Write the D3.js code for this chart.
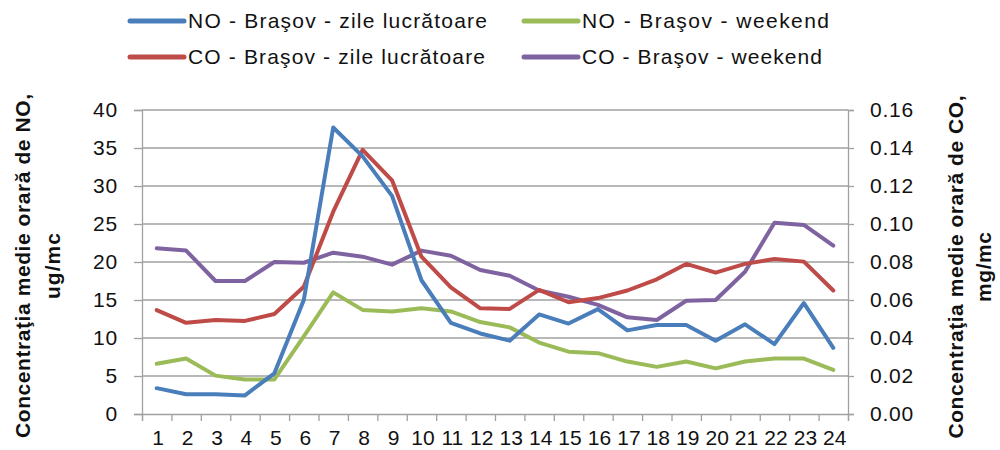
<!DOCTYPE html>
<html><head><meta charset="utf-8">
<script src="https://cdn.jsdelivr.net/npm/d3@7"></script>
<style>body{margin:0;background:#fff}svg{display:block}text{font-family:"Liberation Sans",Arial,sans-serif}</style>
</head><body><svg id="c" width="1000" height="450"></svg>
<script>
const hours = ["1","2","3","4","5","6","7","8","9","10","11","12","13","14","15","16","17","18","19","20","21","22","23","24"];
const noWeekday = [3.4,2.6,2.6,2.45,5.35,15.0,37.7,33.9,28.7,17.6,12.0,10.6,9.65,13.1,11.9,13.8,11.0,11.7,11.7,9.65,11.8,9.2,14.6,8.7];
const noWeekend = [6.6,7.3,5.05,4.55,4.55,10.2,16.0,13.7,13.5,13.9,13.5,12.1,11.4,9.4,8.2,8.0,6.9,6.2,6.9,6.0,6.9,7.3,7.3,5.8];
const coWeekday = [0.0547,0.048,0.0495,0.049,0.0526,0.067,0.1065,0.139,0.123,0.0828,0.0667,0.0556,0.0553,0.0653,0.0588,0.061,0.065,0.0709,0.079,0.0744,0.079,0.0816,0.0802,0.065];
const coWeekend = [0.0872,0.086,0.070,0.070,0.080,0.0796,0.0849,0.0828,0.0786,0.086,0.0833,0.0758,0.0728,0.065,0.0617,0.0574,0.0509,0.0495,0.0596,0.060,0.0749,0.1007,0.0995,0.0886];
const leftTicks = [0,5,10,15,20,25,30,35,40];
const rightTicks = [0,0.02,0.04,0.06,0.08,0.10,0.12,0.14,0.16];
const seriesNames = ["NO - Braşov - zile lucrătoare","NO - Braşov - weekend","CO - Braşov - zile lucrătoare","CO - Braşov - weekend"];
const colors = ["#4A7EBB","#9BBB59","#BE4B48","#7F63A1"];
const leftTitle = ["Concentraţia medie orară de NO,","ug/mc"];
const rightTitle = ["Concentraţia medie orară de CO,","mg/mc"];

const svg = d3.select("#c");
const L=142,R=848,T=110,B=414;
const x = d3.scaleBand().domain(hours).range([L,R]);
const yL = d3.scaleLinear().domain([0,40]).range([B,T]);
const yR = d3.scaleLinear().domain([0,0.16]).range([B,T]);
const grid="#A0A0A0";
const FS=21;

// gridlines
svg.append("g").selectAll("line").data(leftTicks.slice(1)).join("line")
  .attr("x1",L).attr("x2",R).attr("y1",d=>yL(d)).attr("y2",d=>yL(d))
  .attr("stroke",grid).attr("stroke-width",1.3);

// left axis
const gl = svg.append("g").attr("transform",`translate(${L},0)`)
  .call(d3.axisLeft(yL).tickValues(leftTicks).tickSize(8).tickPadding(16).tickFormat(d3.format("d")));
// right axis
const gr = svg.append("g").attr("transform",`translate(${R},0)`)
  .call(d3.axisRight(yR).tickValues(rightTicks).tickSize(6).tickPadding(16).tickFormat(d3.format(".2f")));
// bottom axis
const xb = d3.scaleLinear().domain([0,24]).range([L,R]);
const gb = svg.append("g").attr("transform",`translate(0,${B})`)
  .call(d3.axisBottom(xb).tickValues(d3.range(0,25)).tickSize(7).tickFormat(""));
const gx = svg.append("g").attr("transform",`translate(1.5,${B})`)
  .call(d3.axisBottom(x).tickSize(0).tickPadding(16));
gx.select(".domain").remove();
[gl,gr,gb].forEach(g=>{g.select(".domain").attr("stroke",grid).attr("stroke-width",1.3);g.selectAll(".tick line").attr("stroke",grid).attr("stroke-width",1.3);});
[gl,gr,gx].forEach(g=>g.selectAll("text").attr("font-size",FS).attr("fill","#111").attr("letter-spacing","0.8px").attr("font-family","Liberation Sans, Arial, sans-serif"));
gx.selectAll("text").attr("letter-spacing","0px");

// lines
const data = [[noWeekday,yL],[noWeekend,yL],[coWeekday,yR],[coWeekend,yR]];
const order=[3,2,1,0];
order.forEach(i=>{
  const [vals,ys]=data[i];
  svg.append("path").datum(vals)
    .attr("fill","none").attr("stroke",colors[i]).attr("stroke-width",4)
    .attr("stroke-linejoin","round").attr("stroke-linecap","round")
    .attr("d",d3.line().x((d,j)=>x(hours[j])+x.bandwidth()/2).y(d=>ys(d)));
});

// legend
const legPos=[[128,21],[522,21],[128,57],[522,57]];
const legLen=[299,247,297,240];
seriesNames.forEach((n,i)=>{
  const [lx,ly]=legPos[i];
  svg.append("line").attr("x1",lx+2).attr("x2",lx+56).attr("y1",ly).attr("y2",ly)
    .attr("stroke",colors[i]).attr("stroke-width",5).attr("stroke-linecap","round");
  svg.append("text").attr("x",lx+60).attr("y",ly).attr("dy","0.35em")
    .attr("font-size",FS).attr("fill","#111")
    .attr("textLength",legLen[i]).attr("lengthAdjust","spacing").text(n);
});

// axis titles
function title(lines,cx,cy,dx,lens){
  const t=svg.append("text").attr("transform",`translate(${cx},${cy}) rotate(-90)`)
    .attr("text-anchor","middle").attr("font-size",FS).attr("font-weight","bold").attr("fill","#111");
  lines.forEach((s,k)=>t.append("tspan").attr("x",0).attr("y",k*dx).attr("dy","0.35em")
    .attr("textLength",lens[k]).attr("lengthAdjust","spacing").text(s));
}
title(leftTitle,23,266,30,[344,66]);
title(rightTitle,956,267,28,[343,70]);
</script></body></html>
